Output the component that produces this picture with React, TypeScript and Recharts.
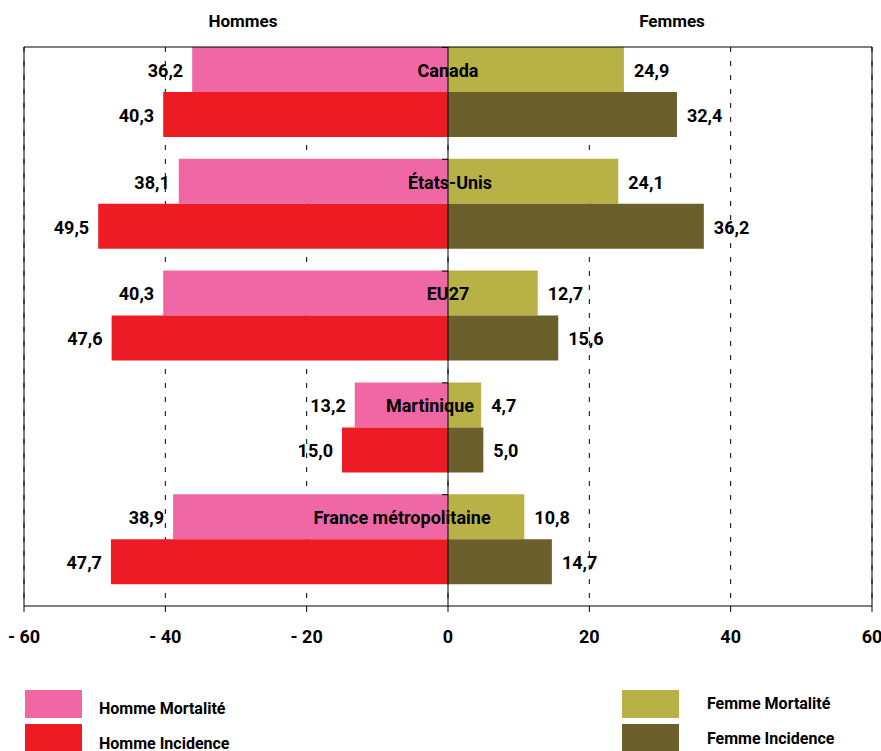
import { BarChart, Bar, XAxis, YAxis, CartesianGrid, ReferenceLine, LabelList, Rectangle } from "recharts"

const pays = ["Canada", "États-Unis", "EU27", "Martinique", "France métropolitaine"]
const hommesMortalite = [36.2, 38.1, 40.3, 13.2, 38.9]
const hommesIncidence = [40.3, 49.5, 47.6, 15.0, 47.7]
const femmesMortalite = [24.9, 24.1, 12.7, 4.7, 10.8]
const femmesIncidence = [32.4, 36.2, 15.6, 5.0, 14.7]
const xTicks = [-60, -40, -20, 0, 20, 40, 60]

const FONT = "Roboto, 'Open Sans', sans-serif"

const series = [
  { key: "hm", name: "Homme Mortalité", color: "#EF67A5", stack: "mort" },
  { key: "hi", name: "Homme Incidence", color: "#ED1C24", stack: "inc" },
  { key: "fm", name: "Femme Mortalité", color: "#B8B246", stack: "mort" },
  { key: "fi", name: "Femme Incidence", color: "#6B5F2B", stack: "inc" },
]

const data = pays.map((p, i) => ({
  pays: p,
  hm: -hommesMortalite[i],
  hi: -hommesIncidence[i],
  fm: femmesMortalite[i],
  fi: femmesIncidence[i],
}))

// category names are not all centred on the zero line in the original
const paysShift: Record<string, number> = {
  Canada: 0,
  "États-Unis": 2,
  EU27: 0,
  Martinique: -18,
  "France métropolitaine": -46,
}

const fmt = (v: number) => Math.abs(v).toFixed(1).replace(".", ",")

function valueLabel(side: "left" | "right") {
  return (props: any) => {
    const { x, y, width, height, value } = props
    const left = Math.min(x, x + width)
    const right = Math.max(x, x + width)
    const tx = side === "left" ? left - 9 : right + 10
    return (
      <text
        x={tx}
        y={y + height / 2 + 1}
        dy="0.35em"
        textAnchor={side === "left" ? "end" : "start"}
        fontFamily={FONT}
        fontWeight={700}
        fontSize={18}
        fill="#000"
      >
        {fmt(value)}
      </text>
    )
  }
}

function paysLabel(props: any) {
  const { x, y, width, height, value } = props
  const zero = Math.min(x, x + width)
  return (
    <text
      x={zero + (paysShift[value] ?? 0)}
      y={y + height / 2 + 1}
      dy="0.35em"
      textAnchor="middle"
      fontFamily={FONT}
      fontWeight={700}
      fontSize={18}
      fill="#000"
    >
      {value}
    </text>
  )
}

// pink bar plus the little category tick on the zero line
function hommeShape(props: any) {
  const { x, y, width, fill } = props
  const zero = Math.max(x, x + width)
  return (
    <g>
      <Rectangle {...props} fill={fill} />
      <line x1={zero - 6} x2={zero} y1={y + 0.5} y2={y + 0.5} stroke="#000" strokeWidth={1} />
    </g>
  )
}

export default function App() {
  return (
    <div style={{ position: "relative", width: 881, height: 751, overflow: "hidden", fontFamily: FONT }}>
      <style>{`body{margin:0}`}</style>
      <div style={{ position: "absolute", left: 243, top: 21, transform: "translate(-50%,-50%)", fontWeight: 700, fontSize: 17, whiteSpace: "nowrap" }}>
        Hommes
      </div>
      <div style={{ position: "absolute", left: 672, top: 21, transform: "translate(-50%,-50%)", fontWeight: 700, fontSize: 17, whiteSpace: "nowrap" }}>
        Femmes
      </div>
      <BarChart
        width={881}
        height={751}
        data={data}
        layout="vertical"
        stackOffset="sign"
        barCategoryGap={11.3}
        barGap={0}
        margin={{ top: 46, right: 9, bottom: 85, left: 24 }}
      >
        <CartesianGrid horizontal={false} stroke="#000" strokeDasharray="5 9" />
        <XAxis
          type="number"
          domain={[-60, 60]}
          ticks={xTicks}
          interval={0}
          height={60}
          axisLine={{ stroke: "#000" }}
          tickLine={{ stroke: "#000" }}
          tickSize={6}
          tickMargin={18}
          tickFormatter={(v: number) => (v < 0 ? `- ${Math.abs(v)}` : `${v}`)}
          tick={{ fill: "#000", fontFamily: FONT, fontWeight: 700, fontSize: 18 }}
        />
        <XAxis
          xAxisId="top"
          orientation="top"
          type="number"
          domain={[-60, 60]}
          height={1}
          tick={false}
          tickLine={false}
          axisLine={{ stroke: "#000" }}
        />
        <YAxis type="category" dataKey="pays" hide padding={{ top: -11.3, bottom: 11.3 }} />
        <Bar dataKey="hm" name={series[0].name} stackId="mort" fill={series[0].color} isAnimationActive={false} shape={hommeShape}>
          <LabelList dataKey="hm" content={valueLabel("left")} />
        </Bar>
        <Bar dataKey="hi" name={series[1].name} stackId="inc" fill={series[1].color} isAnimationActive={false}>
          <LabelList dataKey="hi" content={valueLabel("left")} />
        </Bar>
        <Bar dataKey="fm" name={series[2].name} stackId="mort" fill={series[2].color} isAnimationActive={false}>
          <LabelList dataKey="fm" content={valueLabel("right")} />
          <LabelList dataKey="pays" content={paysLabel} />
        </Bar>
        <Bar dataKey="fi" name={series[3].name} stackId="inc" fill={series[3].color} isAnimationActive={false}>
          <LabelList dataKey="fi" content={valueLabel("right")} />
        </Bar>
        <ReferenceLine x={-60} stroke="#000" strokeDasharray="0" ifOverflow="visible" />
        <ReferenceLine x={60} stroke="#000" strokeDasharray="0" ifOverflow="visible" />
        <ReferenceLine x={0} stroke="#000" />
      </BarChart>
      {series.map((s, i) => {
        const femme = i >= 2
        const row = i % 2
        return (
          <div key={s.key}>
            <div
              style={{
                position: "absolute",
                left: femme ? 622 : 25,
                top: 690 + row * 34,
                width: 57,
                height: 28,
                background: s.color,
              }}
            />
            <div
              style={{
                position: "absolute",
                left: femme ? 707 : 99,
                top: (femme ? 703 : 708) + row * 35,
                transform: "translateY(-50%)",
                fontWeight: 700,
                fontSize: 16,
                whiteSpace: "nowrap",
              }}
            >
              {s.name}
            </div>
          </div>
        )
      })}
    </div>
  )
}
